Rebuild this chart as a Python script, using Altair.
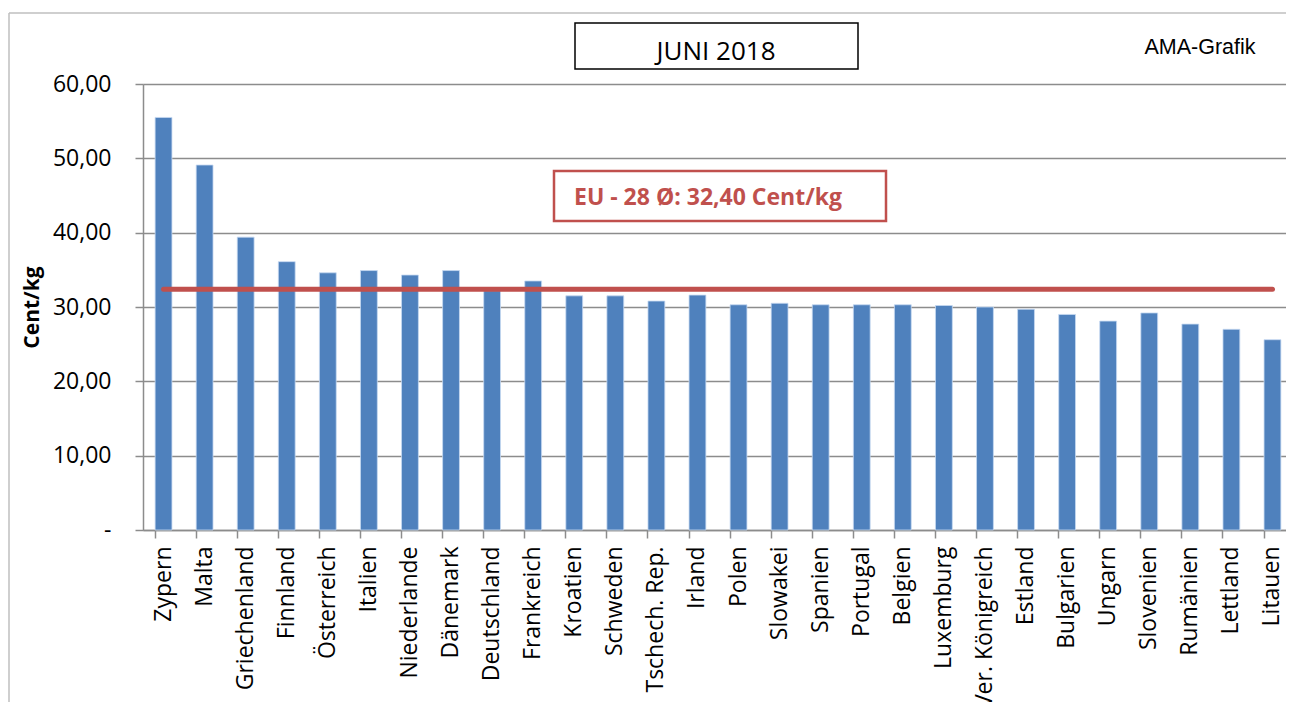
import altair as alt
import pandas as pd

countries = ["Zypern", "Malta", "Griechenland", "Finnland", "Österreich", "Italien",
             "Niederlande", "Dänemark", "Deutschland", "Frankreich", "Kroatien",
             "Schweden", "Tschech. Rep.", "Irland", "Polen", "Slowakei", "Spanien",
             "Portugal", "Belgien", "Luxemburg", "Ver. Königreich", "Estland",
             "Bulgarien", "Ungarn", "Slovenien", "Rumänien", "Lettland", "Litauen"]
prices = [55.5, 49.1, 39.4, 36.1, 34.6, 34.9, 34.3, 34.9, 32.2, 33.5, 31.5,
          31.5, 30.8, 31.6, 30.3, 30.5, 30.3, 30.3, 30.3, 30.2, 30.0, 29.7,
          29.0, 28.1, 29.2, 27.7, 27.0, 25.6]
eu_avg = 32.40
y_ticks = [0, 10, 20, 30, 40, 50, 60]
month_label = "JUNI 2018"
eu_label = "EU - 28 Ø: 32,40 Cent/kg"
source_label = "AMA-Grafik"
y_title = "Cent/kg"

df = pd.DataFrame({"Land": countries, "Preis": prices, "EU": [eu_avg] * len(countries)})
deco = pd.DataFrame({"a": [0]})

W, H = 1143, 446
FULL_W = 1150
FONT = "Open Sans"

x_scale = alt.Scale(range=[0, FULL_W], paddingInner=0.59, paddingOuter=0.295)

x_enc = alt.X("Land:N", sort=countries, scale=x_scale,
              axis=alt.Axis(title=None, labelAngle=-90, labelAlign="right", labelBaseline="middle",
                            labelFont=FONT, labelFontSize=23, labelColor="#000000", labelPadding=8,
                            ticks=True, tickSize=8, tickColor="#8c8c8c", tickWidth=1.5,
                            bandPosition=0, domainColor="#8c8c8c", domainWidth=1.5,
                            grid=False, labelOverlap=False))

y_enc = alt.Y("Preis:Q", scale=alt.Scale(domain=[0, 60], nice=False, zero=True),
              axis=alt.Axis(values=y_ticks, title=y_title, titleFont=FONT, titleFontSize=21,
                            titleFontWeight="bold", titleColor="#000000", titleAngle=-90,
                            titleX=-111, titleY=H / 2, titleAlign="center", titleBaseline="middle",
                            labelFont=FONT, labelFontSize=23, labelColor="#000000", labelPadding=24,
                            labelExpr="datum.value == 0 ? '-' : replace(format(datum.value, '.2f'), '.', ',')",
                            tickSize=8, tickColor="#8c8c8c", tickWidth=1.5,
                            domainColor="#8c8c8c", domainWidth=1.5,
                            grid=True, gridColor="#8c8c8c", gridWidth=1.5))

bars = alt.Chart(df).mark_bar(color="#4F81BD", stroke="#c6d9f1", strokeWidth=0.8).encode(
    x=x_enc, y=y_enc)

line = alt.Chart(df).mark_line(color="#C0504D", strokeWidth=5, strokeCap="round").encode(
    x=alt.X("Land:N", sort=countries), y=alt.Y("EU:Q"))

frame_left = alt.Chart(deco).mark_rule(color="#bfbfbf", strokeWidth=1.5).encode(
    x=alt.value(-134), y=alt.value(-71), y2=alt.value(H + 300))
frame_top = alt.Chart(deco).mark_rule(color="#bfbfbf", strokeWidth=1.5).encode(
    x=alt.value(-134), x2=alt.value(FULL_W + 40), y=alt.value(-71))

month_box = alt.Chart(deco).mark_rect(fill="white", stroke="#000000", strokeWidth=1.5).encode(
    x=alt.value(432), x2=alt.value(715), y=alt.value(-61), y2=alt.value(-15))
month_text = alt.Chart(deco).mark_text(text=month_label, font=FONT, fontSize=26, color="#000000",
                                       align="center", baseline="middle").encode(
    x=alt.value(573), y=alt.value(-32))

source_text = alt.Chart(deco).mark_text(text=source_label, font="Liberation Sans", fontSize=21.5,
                                        color="#000000", align="center", baseline="middle").encode(
    x=alt.value(1057), y=alt.value(-36))

eu_box = alt.Chart(deco).mark_rect(fill="white", stroke="#C0504D", strokeWidth=2.5).encode(
    x=alt.value(411), x2=alt.value(743), y=alt.value(87), y2=alt.value(137))
eu_text = alt.Chart(deco).mark_text(text=eu_label, font=FONT, fontSize=23, fontWeight="bold",
                                    color="#C0504D", align="left", baseline="middle").encode(
    x=alt.value(431), y=alt.value(114))

chart = alt.layer(frame_left, frame_top, bars, line, month_box, month_text, source_text,
                  eu_box, eu_text).properties(
    width=W, height=H,
    autosize=alt.AutoSizeParams(type="none"),
    padding={"left": 135, "top": 76, "right": 0, "bottom": 172},
).configure_view(stroke=None).configure(background="white")

chart.save("out.html", embed_options={"renderer": "svg", "actions": False})
